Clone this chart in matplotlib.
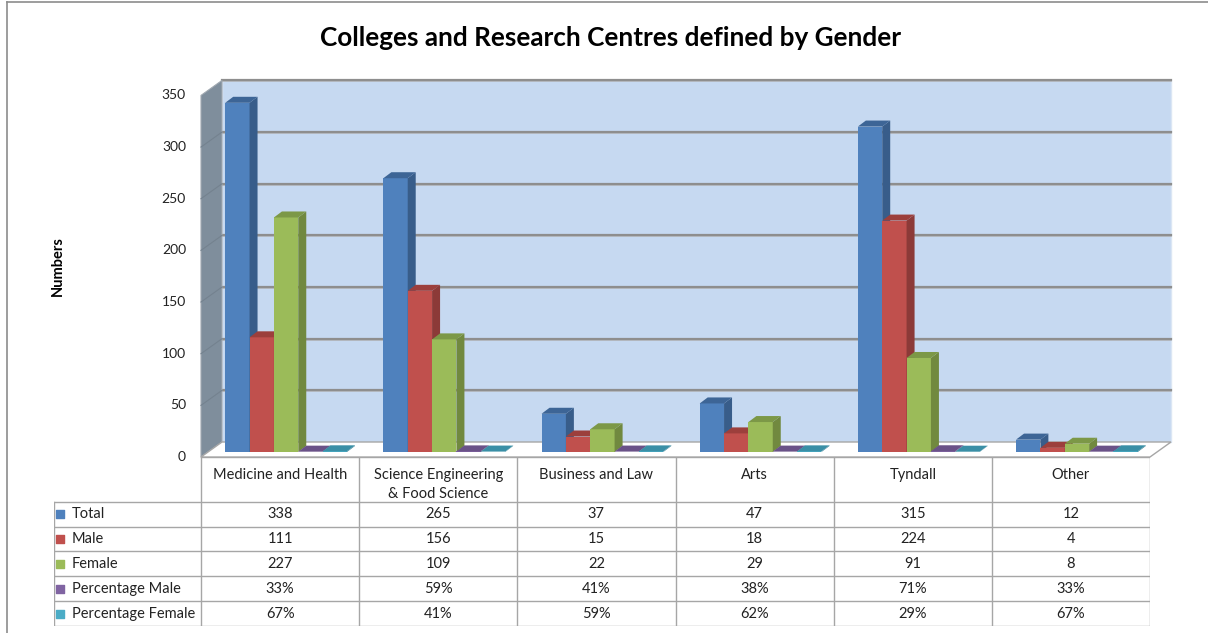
import matplotlib.pyplot as plt
from matplotlib.patches import Polygon

plt.rcParams['font.family'] = ['Lato', 'DejaVu Sans']

categories = ['Medicine and Health', 'Science Engineering\n& Food Science',
              'Business and Law', 'Arts', 'Tyndall', 'Other']
series = ['Total', 'Male', 'Female', 'Percentage Male', 'Percentage Female']
total = [338, 265, 37, 47, 315, 12]
male = [111, 156, 15, 18, 224, 4]
female = [227, 109, 22, 29, 91, 8]
pct_male = [0.33, 0.59, 0.41, 0.38, 0.71, 0.33]
pct_female = [0.67, 0.41, 0.59, 0.62, 0.29, 0.67]
yticks = [0, 50, 100, 150, 200, 250, 300, 350]

values = [total, male, female, pct_male, pct_female]
front_c = ['#4F81BD', '#C0504D', '#9BBB59', '#8064A2', '#4BACC6']
side_c = ['#385D8A', '#8C3A38', '#71893F', '#5C4776', '#357D91']
top_c = ['#3D6596', '#9C3F3C', '#7C9847', '#6A5288', '#3A8FA6']

W, H = 1208, 633
fig = plt.figure(figsize=(W / 100, H / 100), dpi=100)

# frame
fig.add_artist(plt.Line2D([7 / W, 7 / W], [0, 1 - 1.5 / H], color='#8c8c8c', lw=1.2))
fig.add_artist(plt.Line2D([7 / W, 1], [1 - 1.5 / H, 1 - 1.5 / H], color='#8c8c8c', lw=1.2))

fig.text(611 / W, 1 - 38 / H, 'Colleges and Research Centres defined by Gender',
         ha='center', va='center', fontsize=18.8, fontweight='bold')
fig.text(58 / W, 1 - 266 / H, 'Numbers', rotation=90, ha='center', va='center',
         fontsize=10.5, fontweight='bold')

# front plane of the chart
x0, x1, ybase, ytop = 201, 1150, 457, 95.4
ax = fig.add_axes([x0 / W, 1 - ybase / H, (x1 - x0) / W, (ybase - ytop) / H])
ax.set_xlim(-0.5, 5.5)
ax.set_ylim(0, 350)
ax.axis('off')
sx = (x1 - x0) / 6
sy = (ybase - ytop) / 350


def dpx(px, py):
    return px / sx, py / sy


Dx, Dy = dpx(21, 15)   # floor depth
Bx, By = dpx(6, 5)     # bar plane
dx, dy = dpx(8, 6)     # bar depth

# back wall
ax.add_patch(Polygon([(-0.5 + Dx, Dy), (5.5 + Dx, Dy), (5.5 + Dx, 350 + Dy), (-0.5 + Dx, 350 + Dy)],
                     closed=True, facecolor='#C6D9F1', edgecolor='#dbe6f4', lw=1.0,
                     clip_on=False, zorder=1))
for t in yticks[1:]:
    ax.plot([-0.5 + Dx, 5.5 + Dx], [t + Dy - 1 / sy, t + Dy - 1 / sy], color='#b4b8bd', lw=1.2,
            clip_on=False, zorder=2)
    ax.plot([-0.5 + Dx, 5.5 + Dx], [t + Dy, t + Dy], color='#8e8e8e', lw=1.6, clip_on=False, zorder=2)
# left wall
ax.add_patch(Polygon([(-0.5, 0), (-0.5 + Dx, Dy), (-0.5 + Dx, 350 + Dy), (-0.5, 350)],
                     closed=True, facecolor='#7f8e9c', edgecolor='#a0a8b0', lw=0.8,
                     clip_on=False, zorder=2))
for t in yticks[1:-1]:
    ax.plot([-0.5, -0.5 + Dx], [t, t + Dy], color='#74828f', lw=0.8, clip_on=False, zorder=2)
# floor
ax.add_patch(Polygon([(-0.5, 0), (5.5, 0), (5.5 + Dx, Dy), (-0.5 + Dx, Dy)],
                     closed=True, facecolor='white', edgecolor='#a6a6a6', lw=1.0,
                     clip_on=False, zorder=2))

# bars
w = 0.154
for c in range(len(categories)):
    for k, vals in enumerate(values):
        v = vals[c]
        xl = c + (k - 2.5) * w + Bx
        xr = xl + w
        b = By
        ax.bar(xl, v, width=w, bottom=b, align='edge', color=front_c[k],
               edgecolor='none', clip_on=False, zorder=3)
        ax.add_patch(Polygon([(xr, b), (xr + dx, b + dy), (xr + dx, b + v + dy), (xr, b + v)],
                             closed=True, facecolor=side_c[k], edgecolor='none',
                             clip_on=False, zorder=3))
        ax.add_patch(Polygon([(xl, b + v), (xr, b + v), (xr + dx, b + v + dy), (xl + dx, b + v + dy)],
                             closed=True, facecolor=top_c[k], edgecolor='none',
                             clip_on=False, zorder=3))

for t in yticks:
    ax.text(-0.5 - 15 / sx, t, str(t), ha='right', va='center', fontsize=10, color='#222222')

# data table
tl = 54
tb = 626
tax = fig.add_axes([tl / W, 1 - tb / H, (x1 - tl) / W, (tb - ybase) / H])
left = -0.5 - (x0 - tl) / sx
tax.set_xlim(left, 5.5)
tax.set_ylim(6.8, 0)
tax.axis('off')
lc = '#a6a6a6'
tax.plot([-0.5, 5.5], [0, 0], color=lc, lw=1.0)
for r in [1.8, 2.8, 3.8, 4.8, 5.8, 6.8]:
    tax.plot([left, 5.5], [r, r], color=lc, lw=1.0)
tax.plot([left, left], [1.8, 6.8], color=lc, lw=1.0)
for i in range(7):
    tax.plot([i - 0.5, i - 0.5], [0, 6.8], color=lc, lw=1.0)

for c, name in enumerate(categories):
    tax.text(c, 0.44, name, ha='center', va='top', fontsize=10.5, linespacing=1.5,
             color='#222222')

for k, (name, vals) in enumerate(zip(series, values)):
    yr = 2.3 + k
    tax.scatter([left + 6 / sx], [yr], marker='s', s=30, color=front_c[k], clip_on=False)
    tax.text(left + 18 / sx, yr, name, ha='left', va='center', fontsize=10.5, color='#222222')
    for c, v in enumerate(vals):
        txt = f'{round(v * 100)}%' if k >= 3 else str(v)
        tax.text(c, yr, txt, ha='center', va='center', fontsize=10.5, color='#222222')

fig.savefig('out.png', dpi=100)
